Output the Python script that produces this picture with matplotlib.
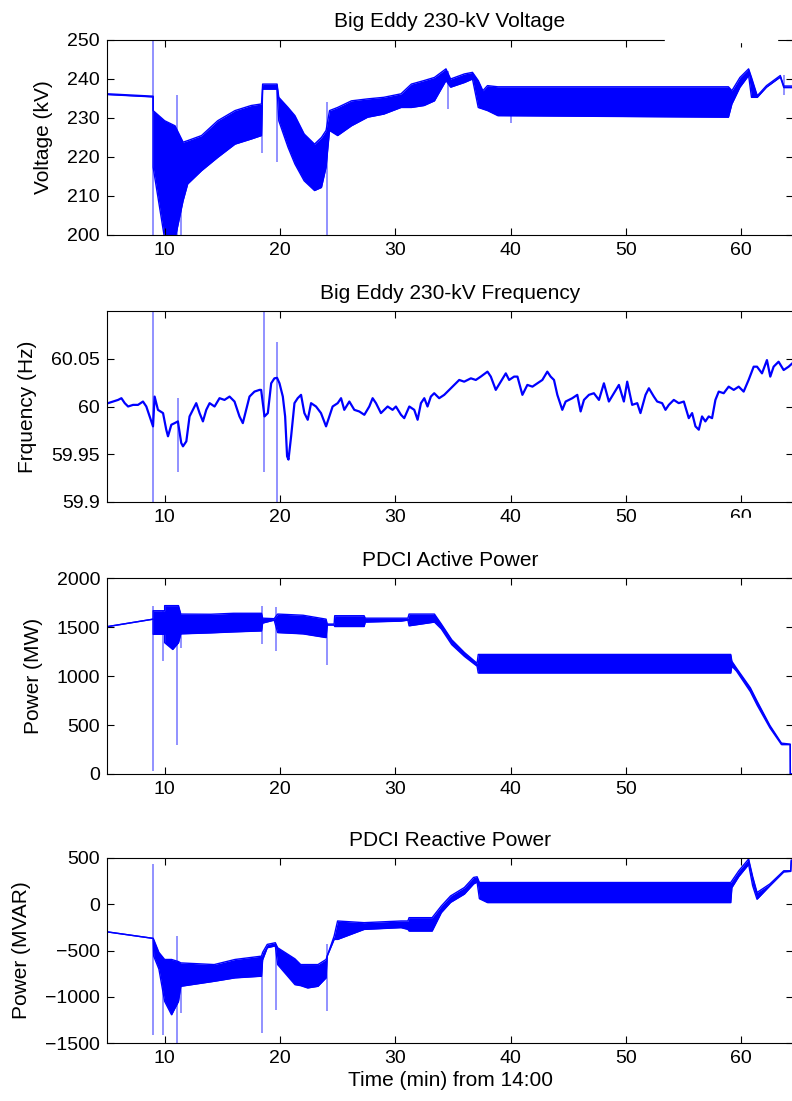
import numpy as np
import matplotlib
matplotlib.use("Agg")
import matplotlib.pyplot as plt
from matplotlib.patches import Rectangle
from matplotlib.ticker import FuncFormatter

plt.rcParams['font.family'] = ['Liberation Sans', 'DejaVu Sans']

# ---- Big Eddy 230-kV voltage: envelope (upper / lower), kV
volt_t = [5.1, 9.0, 9.0, 10.0, 10.9, 11.6, 12.0, 13.2, 14.6, 16.1, 17.5, 18.4,
          18.5, 19.75, 19.9, 20.7, 21.3, 22.1, 23.0, 23.6, 24.0, 24.3, 25.0,
          26.2, 27.6, 29.0, 30.5, 31.4, 32.5, 33.4, 34.4, 34.8, 36.0, 36.7,
          37.2, 37.6, 38.0, 38.9, 58.9, 59.2, 59.9, 60.65, 60.9, 61.4, 62.2,
          63.4, 63.7, 64.5]
volt_hi = [236.2, 235.6, 231.9, 229.3, 228.0, 223.8, 224.2, 225.5, 229.3, 231.9,
           233.2, 233.6, 238.7, 238.7, 235.3, 232.7, 230.6, 225.9, 223.3, 225.0,
           226.8, 231.9, 232.7, 234.4, 234.9, 235.3, 236.2, 238.7, 239.6, 240.4,
           242.6, 240.0, 241.3, 241.7, 239.6, 237.0, 238.3, 238.0, 238.0, 237.0,
           240.4, 242.6, 240.4, 235.7, 238.3, 240.9, 238.2, 238.2]
volt_lo = [236.0, 235.4, 217.4, 199.0, 199.0, 208.8, 213.1, 216.5, 219.9, 223.3,
           224.6, 225.5, 237.4, 237.4, 229.3, 222.5, 218.2, 213.9, 211.4, 212.2,
           217.4, 226.8, 225.5, 228.0, 230.2, 231.0, 232.7, 232.7, 233.2, 234.4,
           239.6, 237.9, 239.1, 240.0, 232.7, 232.3, 231.9, 230.6, 230.2, 233.6,
           237.9, 240.9, 235.3, 235.3, 237.9, 240.5, 237.8, 237.8]
volt_spk_t = [9.0, 11.1, 11.4, 17.9, 18.45, 19.75, 24.1, 34.6, 40.0, 63.7]
volt_spk_lo = [200, 200, 200, 226, 221, 218.6, 200, 232.3, 228.6, 236]
volt_spk_hi = [250, 236, 215, 233, 233, 238, 234, 242, 231, 241]

# ---- Big Eddy 230-kV frequency, Hz
freq_t = [5.09, 5.53, 5.96, 6.25, 6.54, 6.83, 7.26, 7.69, 8.12, 8.41, 8.70, 8.99,
          9.13, 9.42, 9.86, 10.14, 10.29, 10.58, 10.87, 11.15, 11.44, 11.59,
          11.88, 12.16, 12.45, 12.74, 13.03, 13.32, 13.61, 13.90, 14.33, 14.76,
          15.19, 15.63, 16.06, 16.49, 16.78, 17.07, 17.36, 17.79, 18.23, 18.37,
          18.66, 18.95, 19.24, 19.52, 19.75, 19.96, 20.25, 20.45, 20.62, 20.74,
          20.97, 21.26, 21.54, 21.83, 22.12, 22.41, 22.70, 23.13, 23.56, 24.00,
          24.29, 24.57, 25.01, 25.30, 25.58, 26.02, 26.45, 26.88, 27.32, 27.75,
          28.04, 28.33, 28.76, 29.34, 29.77, 30.06, 30.50, 30.78, 31.22, 31.65,
          31.94, 32.23, 32.52, 32.80, 33.09, 33.38, 33.81, 34.25, 34.68, 35.11,
          35.55, 35.98, 36.56, 36.99, 37.42, 38.00, 38.29, 38.72, 39.15, 39.59,
          39.88, 40.31, 40.60, 41.03, 41.46, 41.90, 42.33, 42.76, 43.19, 43.48,
          43.77, 44.06, 44.49, 44.78, 45.36, 45.79, 46.08, 46.37, 46.80, 47.23,
          47.67, 48.10, 48.53, 48.97, 49.40, 49.83, 50.12, 50.55, 50.99, 51.27,
          51.71, 52.00, 52.43, 52.72, 53.15, 53.44, 53.73, 54.16, 54.59, 55.03,
          55.46, 55.75, 56.04, 56.33, 56.61, 56.90, 57.19, 57.48, 57.77, 58.06,
          58.49, 58.92, 59.36, 59.79, 60.22, 60.65, 61.09, 61.38, 61.81, 62.24,
          62.53, 62.82, 63.25, 63.69, 64.12, 64.43]
freq_f = [60.0035, 60.0052, 60.0069, 60.0087, 60.0035, 60.0000, 60.0017, 60.0017,
          60.0052, 60.0000, 59.9896, 59.9792, 60.0104, 59.9965, 59.9931, 59.9757,
          59.9688, 59.9809, 59.9826, 59.9844, 59.9618, 59.9583, 59.9635, 59.9896,
          59.9965, 60.0035, 59.9931, 59.9844, 59.9965, 60.0035, 60.0000, 60.0087,
          60.0069, 60.0104, 60.0052, 59.9896, 59.9826, 59.9965, 60.0104, 60.0156,
          60.0174, 60.0174, 59.9896, 59.9931, 60.0243, 60.0295, 60.0300, 60.0243,
          60.0104, 59.9896, 59.9479, 59.9444, 59.9688, 60.0035, 60.0087, 60.0122,
          59.9931, 59.9861, 60.0035, 60.0000, 59.9931, 59.9792, 59.9896, 60.0000,
          60.0035, 60.0087, 59.9965, 60.0052, 59.9965, 59.9948, 59.9913, 60.0000,
          60.0087, 60.0035, 59.9931, 60.0000, 59.9965, 60.0000, 59.9913, 59.9878,
          60.0000, 59.9965, 59.9861, 60.0035, 60.0087, 60.0000, 60.0104, 60.0139,
          60.0087, 60.0122, 60.0174, 60.0226, 60.0278, 60.0260, 60.0295, 60.0278,
          60.0313, 60.0365, 60.0313, 60.0174, 60.0260, 60.0347, 60.0278, 60.0313,
          60.0313, 60.0122, 60.0226, 60.0208, 60.0243, 60.0278, 60.0365, 60.0313,
          60.0278, 60.0122, 59.9965, 60.0052, 60.0087, 60.0122, 59.9948, 60.0069,
          60.0122, 60.0139, 60.0069, 60.0243, 60.0052, 60.0139, 60.0226, 60.0052,
          60.0260, 60.0017, 60.0035, 59.9931, 60.0122, 60.0191, 60.0104, 60.0052,
          60.0035, 59.9965, 60.0017, 60.0069, 60.0035, 60.0052, 59.9878, 59.9931,
          59.9792, 59.9757, 59.9896, 59.9844, 59.9896, 59.9878, 60.0069, 60.0156,
          60.0139, 60.0208, 60.0174, 60.0208, 60.0156, 60.0278, 60.0417, 60.0417,
          60.0347, 60.0486, 60.0313, 60.0417, 60.0469, 60.0382, 60.0417, 60.0451]
freq_spk_t = [9.0, 11.15, 18.6, 19.78]
freq_spk_lo = [59.9, 59.931, 59.931, 59.9]
freq_spk_hi = [60.1, 60.009, 60.1, 60.068]

# ---- PDCI active power, MW
p_t = [5.1, 9.0, 9.0, 10.0, 10.0, 10.7, 11.2, 11.4, 14.0, 16.0, 18.4, 18.5, 19.5,
       19.8, 22.0, 24.0, 24.1, 24.7, 24.75, 27.3, 27.4, 30.5, 31.1, 31.2, 33.4,
       34.0, 34.9, 36.0, 37.1, 37.2, 59.1, 59.2, 59.6, 60.8, 61.4, 62.5, 63.5,
       64.26, 64.27, 65.0]
p_hi = [1505, 1580, 1666, 1666, 1718, 1718, 1718, 1632, 1630, 1640, 1640, 1590,
        1585, 1632, 1620, 1580, 1530, 1530, 1615, 1615, 1590, 1590, 1590, 1632,
        1632, 1530, 1370, 1240, 1130, 1220, 1220, 1150, 1080, 880, 740, 495, 315,
        305, 0, 0]
p_lo = [1505, 1580, 1426, 1426, 1340, 1271, 1340, 1430, 1440, 1450, 1460, 1540,
        1570, 1443, 1430, 1392, 1520, 1520, 1505, 1505, 1550, 1560, 1570, 1512,
        1550, 1480, 1320, 1200, 1100, 1031, 1031, 1100, 1050, 840, 700, 470, 300,
        300, 0, 0]
p_spk_t = [9.0, 9.9, 11.1, 11.4, 18.45, 19.67, 24.1]
p_spk_lo = [34, 1151, 292, 1288, 1323, 1254, 1117]
p_spk_hi = [1718, 1666, 1500, 1600, 1718, 1700, 1530]

# ---- PDCI reactive power, MVAR
q_t = [5.1, 9.0, 9.05, 9.5, 10.0, 10.6, 11.2, 11.4, 14.3, 16.1, 18.4, 18.5, 18.9,
       19.6, 19.8, 21.3, 21.8, 22.4, 23.3, 24.0, 24.1, 24.7, 25.0, 27.3, 30.5,
       31.1, 31.2, 33.2, 34.0, 34.8, 36.0, 36.8, 37.1, 37.3, 38.0, 59.1, 59.2,
       59.8, 60.65, 61.0, 61.38, 62.5, 63.7, 64.3, 64.35, 65.0]
q_hi = [-300, -369, -380, -520, -597, -597, -620, -634, -652, -597, -561, -520,
        -434, -416, -470, -590, -652, -652, -652, -597, -560, -344, -181, -199,
        -181, -181, -145, -145, -18, 90, 181, 290, 297, 235, 235, 235, 253, 362,
        489, 300, 127, 220, 362, 362, 478, 478]
q_lo = [-300, -369, -560, -700, -1050, -1195, -1050, -887, -833, -796, -778, -600,
        -470, -450, -652, -869, -880, -905, -887, -796, -560, -380, -380, -272,
        -253, -272, -290, -290, -90, 20, 110, 220, 240, 60, 18, 18, 180, 300,
        430, 200, 54, 200, 350, 355, 470, 470]
q_spk_t = [9.0, 9.9, 11.1, 11.4, 18.45, 19.67, 24.1]
q_spk_lo = [-1412, -1412, -1502, -1177, -1394, -1140, -1158]
q_spk_hi = [434, -700, -344, -700, -550, -450, -434]

BLUE = (0, 0, 1)
W, H = 792, 1101
TICK_FS = 14
LABEL_FS = 15
fig = plt.figure(figsize=(W / 100, H / 100), dpi=100)


def make_axes(top_px, bottom_px):
    left = 107 / W
    right = 793 / W
    ax = fig.add_axes([left, 1 - bottom_px / H, right - left, (bottom_px - top_px) / H])
    ax.set_xlim(5, 64.5)
    ax.set_xticks([10, 20, 30, 40, 50, 60])
    ax.tick_params(direction='in', top=True, right=True, length=5, width=0.8,
                   labelsize=TICK_FS, pad=5)
    for sp in ax.spines.values():
        sp.set_linewidth(0.8)
    return ax


def draw_band(ax, t, hi, lo):
    ax.fill_between(t, lo, hi, color=BLUE, lw=0)
    ax.plot(t, hi, color=BLUE, lw=1.0)
    ax.plot(t, lo, color=BLUE, lw=1.0)


def draw_spikes(ax, t, lo, hi):
    ax.vlines(t, lo, hi, color=BLUE, alpha=0.5, lw=1.2)


fmt = FuncFormatter(lambda v, p: '%g' % v)

# Voltage
ax1 = make_axes(40, 235)
draw_band(ax1, volt_t, volt_hi, volt_lo)
draw_spikes(ax1, volt_spk_t, volt_spk_lo, volt_spk_hi)
ax1.set_ylim(200, 250)
ax1.set_yticks([200, 210, 220, 230, 240, 250])
ax1.set_ylabel('Voltage (kV)', fontsize=LABEL_FS, labelpad=10)
ax1.set_title('Big Eddy 230-kV Voltage', fontsize=LABEL_FS, pad=9)

# Frequency
ax2 = make_axes(311, 502)
ax2.plot(freq_t, freq_f, color=BLUE, lw=1.6)
draw_spikes(ax2, freq_spk_t, freq_spk_lo, freq_spk_hi)
ax2.set_ylim(59.9, 60.1)
ax2.set_yticks([59.9, 59.95, 60, 60.05])
ax2.yaxis.set_major_formatter(fmt)
ax2.set_ylabel('Frquency (Hz)', fontsize=LABEL_FS, labelpad=10)
ax2.set_title('Big Eddy 230-kV Frequency', fontsize=LABEL_FS, pad=9)

# Active power
ax3 = make_axes(578, 774)
draw_band(ax3, p_t, p_hi, p_lo)
draw_spikes(ax3, p_spk_t, p_spk_lo, p_spk_hi)
ax3.set_ylim(0, 2000)
ax3.set_yticks([0, 500, 1000, 1500, 2000])
ax3.set_xticklabels(['10', '20', '30', '40', '50', ''])
ax3.set_ylabel('Power (MW)', fontsize=LABEL_FS, labelpad=10)
ax3.set_title('PDCI Active Power', fontsize=LABEL_FS, pad=9)

# Reactive power
ax4 = make_axes(858, 1043)
draw_band(ax4, q_t, q_hi, q_lo)
draw_spikes(ax4, q_spk_t, q_spk_lo, q_spk_hi)
ax4.set_ylim(-1500, 500)
ax4.set_yticks([-1500, -1000, -500, 0, 500])
ax4.set_ylabel('Power (MVAR)', fontsize=LABEL_FS, labelpad=10)
ax4.set_title('PDCI Reactive Power', fontsize=LABEL_FS, pad=9)
ax4.set_xlabel('Time (min) from 14:00', fontsize=LABEL_FS, labelpad=3)

# white patches that hide part of the frame / a tick label in the original
fig.patches.append(Rectangle((665 / W, 1 - 41.5 / H), 112 / W, 4 / H,
                             transform=fig.transFigure, color='white', zorder=10))
fig.patches.append(Rectangle((722 / W, 1 - 535 / H), 40 / W, 17 / H,
                             transform=fig.transFigure, color='white', zorder=10))

fig.savefig('out.png', dpi=100)
